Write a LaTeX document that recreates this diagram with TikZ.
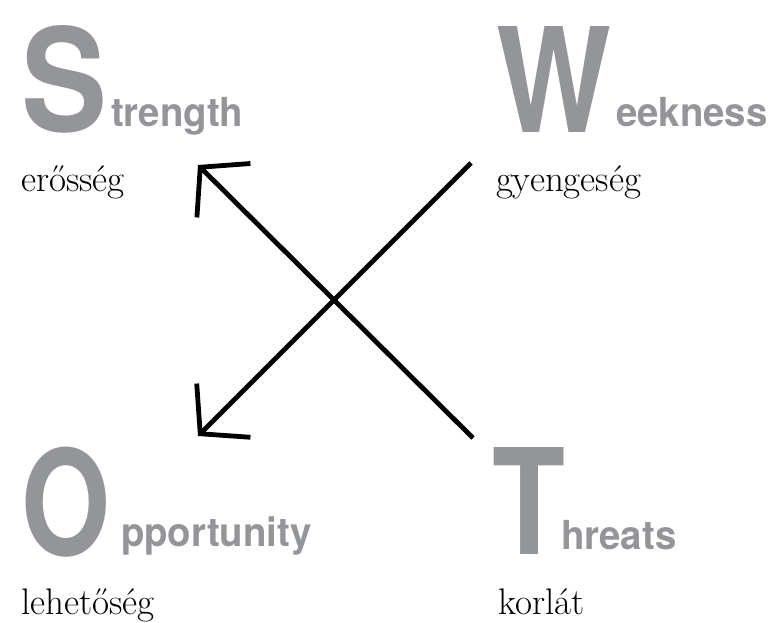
\documentclass[tikz,border=0pt]{standalone}
\usepackage{fontspec}
\usepackage{graphicx}
\usetikzlibrary{arrows.meta}
\newfontfamily\heros{TeX Gyre Heros}
\definecolor{swotgray}{RGB}{147,149,152}
\tikzset{
  bigletter/.style={anchor=base west, inner sep=0pt, outer sep=0pt, text=swotgray,
    font=\heros\bfseries\fontsize{147}{147}\selectfont},
  restword/.style={anchor=base west, inner sep=0pt, outer sep=0pt, text=swotgray,
    font=\heros\bfseries\fontsize{40}{40}\selectfont},
  huword/.style={anchor=base west, inner sep=0pt, outer sep=0pt, text=black,
    font=\fontsize{37}{37}\selectfont},
  cross/.style={line width=4.8pt, draw=black},
  crossarrow/.style={cross, -{Straight Barb[length=33pt,width=76pt,line width=4.8pt]}}
}
\begin{document}
\begin{tikzpicture}[x=1pt,y=1pt]
\useasboundingbox (0,0) rectangle (772,622);
% big letters
\node[bigletter] (S) at (21,490.5) {\resizebox{86pt}{106pt}{S}};
\node[bigletter] (W) at (496,489) {\resizebox{115pt}{106pt}{W}};
\node[bigletter] (O) at (21,66.5) {\resizebox{89pt}{108.5pt}{O}};
\node[bigletter] (T) at (492,68) {\resizebox{73pt}{107pt}{T}};
% rest of words
\node[restword] (Srest) at (111,495) {\scalebox{0.96}[1]{trength}};
\node[restword] (Wrest) at (616,495) {\scalebox{0.96}[1]{eekness}};
\node[restword] (Orest) at (121,75) {\scalebox{0.96}[1]{pportunity}};
\node[restword] (Trest) at (561,72) {\scalebox{0.96}[1]{hreats}};
% hungarian words
\node[huword] (Shu) at (21,430) {erősség};
\node[huword] (Whu) at (496,430) {gyengeség};
\node[huword] (Ohu) at (21,8) {lehetőség};
\node[huword] (Thu) at (498,8) {korlát};
% arrows
\coordinate (a1) at (473,184);
\coordinate (t1) at (198,457);
\coordinate (a2) at (471,459);
\coordinate (t2) at (198,186);
\draw[crossarrow] (a1) -- (t1);
\draw[crossarrow] (a2) -- (t2);
\end{tikzpicture}
\end{document}
